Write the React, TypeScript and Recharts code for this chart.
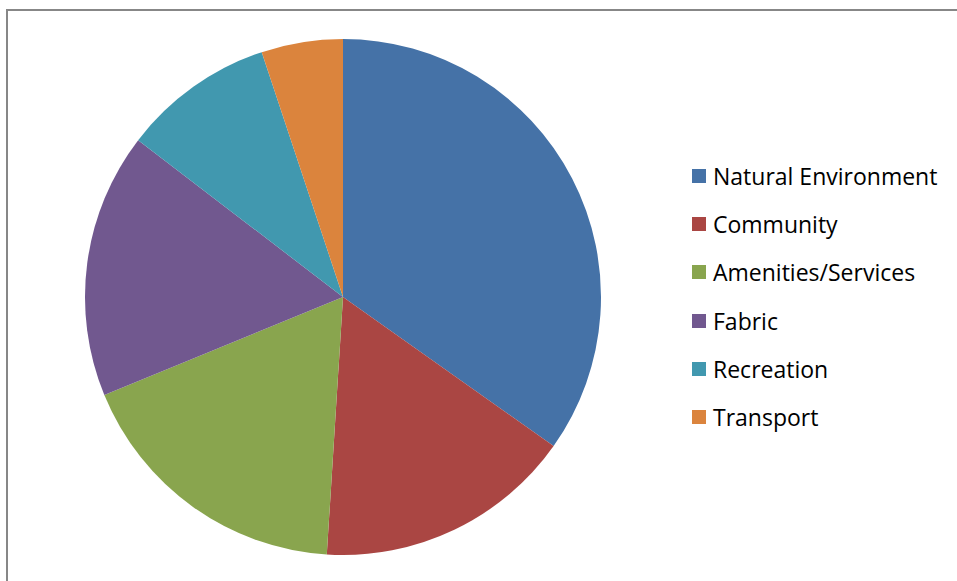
import React from "react";
import { PieChart, Pie, Cell, Legend } from "recharts";

const categories = ["Natural Environment", "Community", "Amenities/Services", "Fabric", "Recreation", "Transport"];
const values = [34.8, 16.2, 17.8, 16.6, 9.5, 5.1];
const colors = ["#4572A7", "#AA4643", "#89A54E", "#71588F", "#4198AF", "#DB843D"];

const data = categories.map((name, i) => ({ name, value: values[i] }));

const renderLegend = () => (
  <div style={{ fontFamily: "Open Sans", fontSize: 23, color: "#000" }}>
    {categories.map((c, i) => (
      <div key={c} style={{ display: "flex", alignItems: "center", height: 48.2 }}>
        <div style={{ width: 14, height: 14, background: colors[i], marginRight: 7 }} />
        <span style={{ lineHeight: "26px" }}>{c}</span>
      </div>
    ))}
  </div>
);

export default function App() {
  return (
    <div style={{ position: "absolute", left: 0, top: 0, width: 957, height: 581, background: "#fff", overflow: "hidden" }}>
      <div style={{ position: "absolute", left: 6, top: 9, width: 1000, height: 1000, borderLeft: "2px solid #878787", borderTop: "2px solid #878787" }} />
      <div style={{ position: "absolute", left: 0, top: 0 }}>
        <PieChart width={957} height={581} margin={{ top: 0, right: 0, bottom: 0, left: 0 }}>
          <Pie
            data={data}
            dataKey="value"
            nameKey="name"
            cx={343}
            cy={297}
            outerRadius={258}
            startAngle={90}
            endAngle={-270}
            stroke="none"
            isAnimationActive={false}
          >
            {data.map((d, i) => (
              <Cell key={d.name} fill={colors[i]} />
            ))}
          </Pie>
          <Legend
            layout="vertical"
            content={renderLegend}
            wrapperStyle={{ position: "absolute", left: 692, top: 152, width: 265 }}
          />
        </PieChart>
      </div>
    </div>
  );
}
